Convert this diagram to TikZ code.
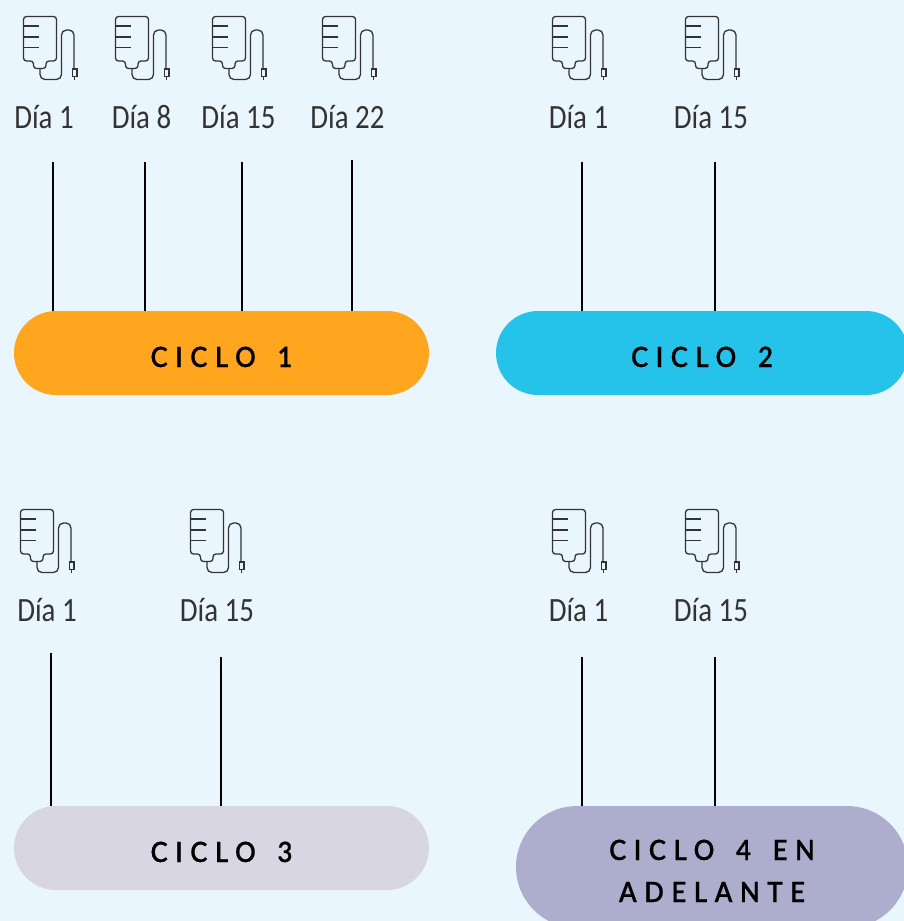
\documentclass[tikz,border=0pt]{standalone}
\usepackage{fontspec}
\setmainfont[FakeStretch=0.85]{Carlito}
\newfontfamily\pillfont[LetterSpace=27,WordSpace=1.55,FakeStretch=0.92,FakeBold=0.6]{Lato Semibold}
\usetikzlibrary{positioning}
\definecolor{pagebg}{HTML}{EAF6FD}
\definecolor{orangec}{HTML}{FFA51E}
\definecolor{cyanc}{HTML}{25C3E9}
\definecolor{lilacc}{HTML}{D8D6E3}
\definecolor{purplec}{HTML}{ADADCD}
\definecolor{inkc}{HTML}{333333}
\tikzset{
  pill/.style     = { rectangle, inner sep=0pt, align=center, text=black,
                      font=\fontsize{28}{42}\pillfont\selectfont },
  pillshort/.style = { pill, minimum height=84pt, rounded corners=42pt, text height=28pt, text depth=0pt },
  pilltall/.style  = { pill, minimum height=122pt, rounded corners=61pt, text height=70pt, text depth=0pt },
  daylabel/.style = { inner sep=0pt, anchor=base, text=inkc,
                      font=\fontsize{34}{40}\selectfont },
  stem/.style     = { line width=2pt, black },
  bag/.pic = {
    \draw [line width=1.3pt, inkc, rounded corners=3pt]
      (0,0) -- (33,0) -- (33,44.5) -- (22.5,44.5) -- (22.5,52) -- (10,52)
      -- (10,44.5) -- (0,44.5) -- cycle;
    \foreach \y in {9.5,20.5,31} \draw [line width=1.3pt, inkc] (0,\y) -- (15,\y);
    \draw [line width=1.3pt, inkc, rounded corners=5pt]
      (16.5,52) -- (16.5,63) -- (38,63) -- (38,13.5) -- (50.5,13.5) -- (50.5,52.5);
    \draw [line width=1.2pt, inkc] (49,52.5) rectangle (53.5,60);
    \draw [line width=1.2pt, inkc] (51.2,60) -- (51.2,63.5);
  }
}

\begin{document}
\begin{tikzpicture}[x=1pt,y=-1pt]
  \useasboundingbox (0,0) rectangle (904,921);
  \fill [pagebg] (0,0) rectangle (904,921);
  \clip (0,0) rectangle (904,921);

  \node (cycle1) [pillshort,fill=orangec,minimum width=415pt] at (221.5,353)   {CICLO 1};
  \node (cycle2) [pillshort,fill=cyanc,minimum width=412pt]   at (702,353)     {CICLO 2};
  \node (cycle3) [pillshort,fill=lilacc,minimum width=415pt]  at (221.5,848)   {CICLO 3};
  \node (cycle4) [pilltall,fill=purplec,minimum width=392pt]  at (712,867)     {CICLO 4 EN\\ADELANTE};

  \pic at (23.5,16.5)  {bag};
  \pic at (115.5,16.5) {bag};
  \pic at (212.5,16.5) {bag};
  \pic at (322.5,16.5) {bag};
  \pic at (552.5,16.5) {bag};
  \pic at (685.5,16.5) {bag};
  \pic at (20.5,509.5) {bag};
  \pic at (190.5,509.5) {bag};
  \pic at (552.5,509.5) {bag};
  \pic at (685.5,509.5) {bag};

  \node (d1)  [daylabel] at (44,128)   {Día 1};
  \node (d8)  [daylabel] at (141.5,128) {Día 8};
  \node (d15) [daylabel] at (238.5,128) {Día 15};
  \node (d22) [daylabel] at (347.5,128) {Día 22};
  \node (e1)  [daylabel] at (578.5,128) {Día 1};
  \node (e15) [daylabel] at (711,128)   {Día 15};
  \node (f1)  [daylabel] at (47,621)    {Día 1};
  \node (f15) [daylabel] at (217,621)   {Día 15};
  \node (g1)  [daylabel] at (578.5,621) {Día 1};
  \node (g15) [daylabel] at (711,621)   {Día 15};

  \coordinate (s1) at (53,162);
  \coordinate (s2) at (145,162);
  \coordinate (s3) at (242,162);
  \coordinate (s4) at (352,160);
  \coordinate (s5) at (582,162);
  \coordinate (s6) at (715,162);
  \coordinate (s7) at (50.5,653);
  \coordinate (s8) at (221,657);
  \coordinate (s9) at (582,657);
  \coordinate (s10) at (715,657);

  \draw [stem] (s1)  -- (s1 |- cycle1.north);
  \draw [stem] (s2)  -- (s2 |- cycle1.north);
  \draw [stem] (s3)  -- (s3 |- cycle1.north);
  \draw [stem] (s4)  -- (s4 |- cycle1.north);
  \draw [stem] (s5)  -- (s5 |- cycle2.north);
  \draw [stem] (s6)  -- (s6 |- cycle2.north);
  \draw [stem] (s7)  -- (s7 |- cycle3.north);
  \draw [stem] (s8)  -- (s8 |- cycle3.north);
  \draw [stem] (s9)  -- (s9 |- cycle4.north);
  \draw [stem] (s10) -- (s10 |- cycle4.north);
\end{tikzpicture}
\end{document}
